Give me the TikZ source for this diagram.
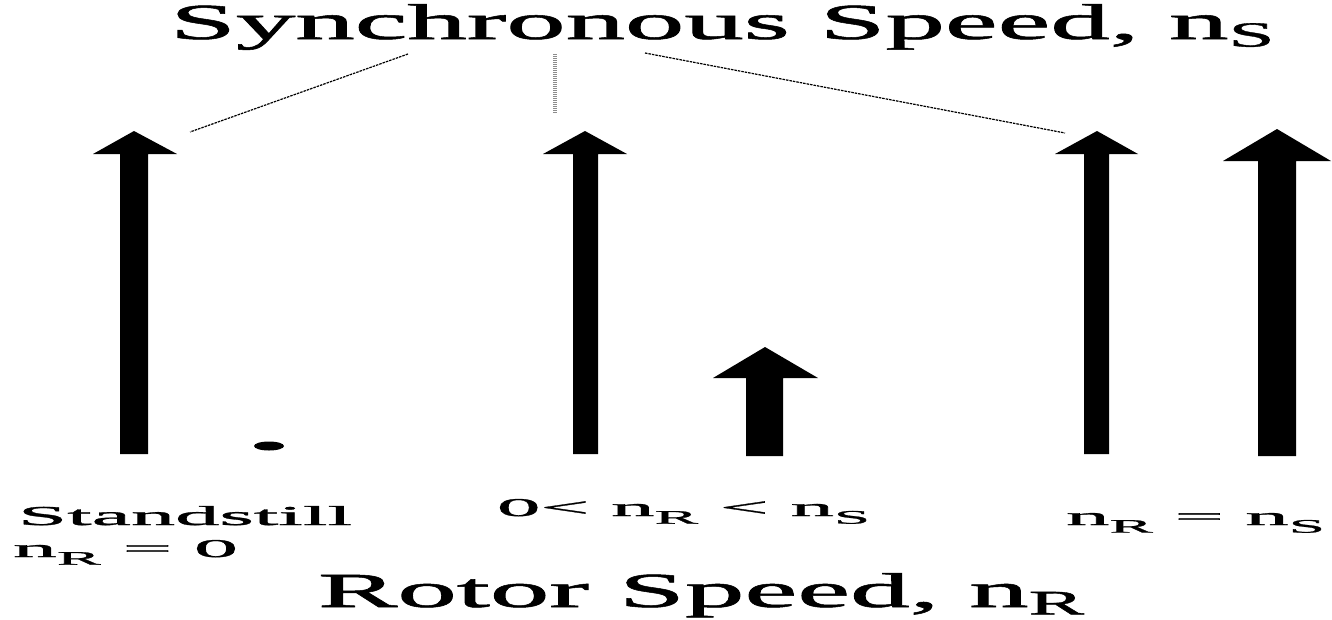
\documentclass[tikz,border=0pt]{standalone}
\usepackage{fontspec}
\setmainfont{Liberation Serif}[FakeBold=1]
\newcommand\subs[1]{\raisebox{-0.3em}{\fontsize{7.5pt}{8pt}\selectfont #1}}
\tikzset{
  lbl/.style={inner sep=0pt, outer sep=0pt, anchor=base west},
  fatarrow/.style={fill=black},
  guide/.style={line width=1.2pt, black, dash pattern=on 2.5pt off 1pt},
  guidev/.style={line width=3.5pt, black!45, dash pattern=on 1pt off 1pt},
}
\begin{document}
\begin{tikzpicture}[x=1pt,y=-1pt]
\path[use as bounding box] (0,0) rectangle (1332,619);
% labels
\node[lbl] (title) at (170,39) {\resizebox{1110pt}{35pt}{Synchronous Speed, n\textsubscript{S}}};
\node[lbl] (rotor) at (318,607) {\resizebox{772pt}{34pt}{Rotor Speed, n\textsubscript{R}}};
\node[lbl] (stand) at (18,525) {\resizebox{334pt}{19pt}{Standstill}};
\node[lbl] (zero) at (13,557) {\resizebox{225pt}{17pt}{n\subs{R} = 0}};
\node[lbl] (mid) at (497,516) {\resizebox{373pt}{17pt}{0< n\subs{R} < n\subs{S}}};
\node[lbl] (eq) at (1066,525) {\resizebox{259pt}{12pt}{n\subs{R} = n\subs{S}}};
% arrows
\fill[fatarrow] (120,454) -- (120,154) -- (93,154) -- (134,131) -- (177,154) -- (148,154) -- (148,454) -- cycle;
\fill[fatarrow] (573,454) -- (573,154) -- (543,154) -- (585,131) -- (627,154) -- (598,154) -- (598,454) -- cycle;
\fill[fatarrow] (746,456) -- (746,378) -- (713,378) -- (765,347) -- (818,378) -- (783,378) -- (783,456) -- cycle;
\fill[fatarrow] (1084,454) -- (1084,154) -- (1055,154) -- (1097,131) -- (1138,154) -- (1109,154) -- (1109,454) -- cycle;
\fill[fatarrow] (1258,456) -- (1258,161) -- (1223,161) -- (1277,129) -- (1331,161) -- (1296,161) -- (1296,456) -- cycle;
% rotor dot
\fill (269,446) ellipse [x radius=15, y radius=4.5];
% guide lines
\coordinate (g1a) at (408,54); \coordinate (g1b) at (190,132);
\coordinate (g2a) at (555,54); \coordinate (g2b) at (555,114);
\coordinate (g3a) at (645,53); \coordinate (g3b) at (1065,133);
\draw[guide] (g1a) -- (g1b);
\draw[guidev] (g2a) -- (g2b);
\draw[guide] (g3a) -- (g3b);
\end{tikzpicture}
\end{document}
